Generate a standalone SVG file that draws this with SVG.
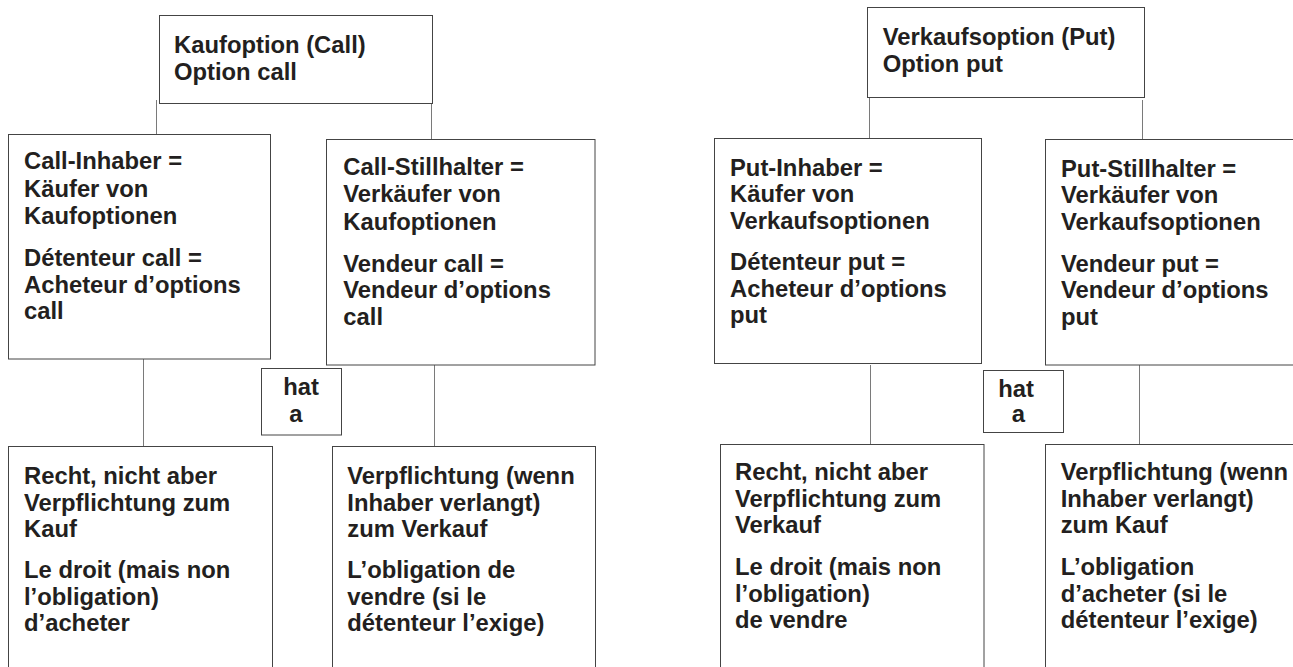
<svg xmlns="http://www.w3.org/2000/svg" width="1293" height="667" viewBox="0 0 1293 667">
<style>
.box{fill:#fff;stroke:#444;stroke-width:1}
.con{stroke:#7a7a7a;stroke-width:1;fill:none}
.t{font-family:"Liberation Sans",Arial,sans-serif;font-weight:bold;font-size:23.8px;fill:#231f20}
</style>
<rect width="1293" height="667" fill="#fff"/>
<g id="connectors">
<line class="con" x1="156.5" y1="100" x2="156.5" y2="134.5"/>
<line class="con" x1="431.5" y1="103.5" x2="431.5" y2="139.5"/>
<line class="con" x1="143.5" y1="359" x2="143.5" y2="446.5"/>
<line class="con" x1="434.5" y1="365" x2="434.5" y2="446.5"/>
<line class="con" x1="869.5" y1="97.5" x2="869.5" y2="138.5"/>
<line class="con" x1="1142.5" y1="100" x2="1142.5" y2="139.5"/>
<line class="con" x1="870.5" y1="365" x2="870.5" y2="444.5"/>
<line class="con" x1="1139.5" y1="365" x2="1139.5" y2="444.5"/>
</g>
<g id="call">
<rect class="box" x="159.5" y="15.5" width="273" height="88"/>
<text class="t" transform="translate(174 53.3)"><tspan x="0" y="0">Kaufoption (Call)</tspan><tspan x="0" y="26.7">Option call</tspan></text>
</g>
<g id="call-inhaber">
<rect class="box" x="8.5" y="134.5" width="262" height="224.5"/>
<text class="t" transform="translate(24 169.3)"><tspan x="0" y="0">Call-Inhaber =</tspan><tspan x="0" y="27.3">Käufer von</tspan><tspan x="0" y="54.7">Kaufoptionen</tspan><tspan x="0" y="97.2">Détenteur call =</tspan><tspan x="0" y="124">Acheteur d’options</tspan><tspan x="0" y="150.2">call</tspan></text>
</g>
<g id="call-stillhalter">
<rect class="box" x="326.5" y="139.5" width="268.5" height="225.5"/>
<text class="t" transform="translate(343.3 175)"><tspan x="0" y="0">Call-Stillhalter =</tspan><tspan x="0" y="27.3">Verkäufer von</tspan><tspan x="0" y="54.7">Kaufoptionen</tspan><tspan x="0" y="96.7">Vendeur call =</tspan><tspan x="0" y="123.3">Vendeur d’options</tspan><tspan x="0" y="149.5">call</tspan></text>
</g>
<g id="hat-call">
<rect class="box" x="261.5" y="368.5" width="80" height="66.5"/>
<text class="t" transform="translate(283.3 395)"><tspan x="0" y="0">hat</tspan><tspan x="6" y="26.7">a</tspan></text>
</g>
<g id="call-recht">
<rect class="box" x="8.5" y="446.5" width="264" height="260"/>
<text class="t" transform="translate(24 484)"><tspan x="0" y="0">Recht, nicht aber</tspan><tspan x="0" y="26.7">Verpflichtung zum</tspan><tspan x="0" y="53">Kauf</tspan><tspan x="0" y="94.3">Le droit (mais non</tspan><tspan x="0" y="121">l’obligation)</tspan><tspan x="0" y="147">d’acheter</tspan></text>
</g>
<g id="call-pflicht">
<rect class="box" x="332.5" y="446.5" width="263" height="260"/>
<text class="t" transform="translate(347.3 484)"><tspan x="0" y="0">Verpflichtung (wenn</tspan><tspan x="0" y="26.7">Inhaber verlangt)</tspan><tspan x="0" y="53">zum Verkauf</tspan><tspan x="0" y="94.3">L’obligation de</tspan><tspan x="0" y="121">vendre (si le</tspan><tspan x="0" y="147">détenteur l’exige)</tspan></text>
</g>
<g id="put">
<rect class="box" x="867.5" y="7.5" width="277" height="90"/>
<text class="t" transform="translate(882.7 45)"><tspan x="0" y="0">Verkaufsoption (Put)</tspan><tspan x="0" y="26.7">Option put</tspan></text>
</g>
<g id="put-inhaber">
<rect class="box" x="714.5" y="138.5" width="267" height="225"/>
<text class="t" transform="translate(730 175.7)"><tspan x="0" y="0">Put-Inhaber =</tspan><tspan x="0" y="26.6">Käufer von</tspan><tspan x="0" y="53.6">Verkaufsoptionen</tspan><tspan x="0" y="94.3">Détenteur put =</tspan><tspan x="0" y="121">Acheteur d’options</tspan><tspan x="0" y="147.6">put</tspan></text>
</g>
<g id="put-stillhalter">
<rect class="box" x="1045.5" y="139.5" width="300" height="225.5"/>
<text class="t" transform="translate(1061 176.7)"><tspan x="0" y="0">Put-Stillhalter =</tspan><tspan x="0" y="26.6">Verkäufer von</tspan><tspan x="0" y="53.1">Verkaufsoptionen</tspan><tspan x="0" y="95">Vendeur put =</tspan><tspan x="0" y="121.6">Vendeur d’options</tspan><tspan x="0" y="148">put</tspan></text>
</g>
<g id="hat-put">
<rect class="box" x="983.5" y="370.5" width="80" height="62"/>
<text class="t" transform="translate(998.3 396.7)"><tspan x="0" y="0">hat</tspan><tspan x="13.4" y="25.6">a</tspan></text>
</g>
<g id="put-recht">
<rect class="box" x="720.5" y="444.5" width="263.5" height="260"/>
<text class="t" transform="translate(735 480)"><tspan x="0" y="0">Recht, nicht aber</tspan><tspan x="0" y="26.7">Verpflichtung zum</tspan><tspan x="0" y="53.3">Verkauf</tspan><tspan x="0" y="95">Le droit (mais non</tspan><tspan x="0" y="121.7">l’obligation)</tspan><tspan x="0" y="147.7">de vendre</tspan></text>
</g>
<g id="put-pflicht">
<rect class="box" x="1045.5" y="444.5" width="300" height="260"/>
<text class="t" transform="translate(1060.7 480)"><tspan x="0" y="0">Verpflichtung (wenn</tspan><tspan x="0" y="26.7">Inhaber verlangt)</tspan><tspan x="0" y="53.3">zum Kauf</tspan><tspan x="0" y="95">L’obligation</tspan><tspan x="0" y="121.7">d’acheter (si le</tspan><tspan x="0" y="147.7">détenteur l’exige)</tspan></text>
</g>
</svg>
